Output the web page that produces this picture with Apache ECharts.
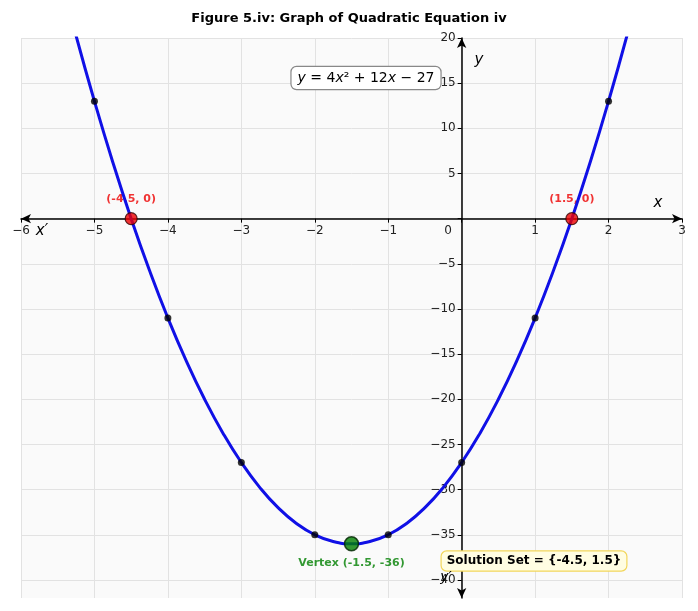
<!DOCTYPE html>
<html>
<head>
<meta charset="utf-8">
<script src="https://cdn.jsdelivr.net/npm/echarts@6/dist/echarts.min.js"></script>
<style>html,body{margin:0;padding:0;background:#fff}#c{width:698px;height:611px}</style>
</head>
<body>
<div id="c"></div>
<script>
// Curve samples read from the plotted parabola
var curveX = [-5.25,-5,-4.75,-4.5,-4.25,-4,-3.75,-3.5,-3.25,-3,-2.75,-2.5,-2.25,-2,-1.75,-1.5,-1.25,-1,-0.75,-0.5,-0.25,0,0.25,0.5,0.75,1,1.25,1.5,1.75,2,2.25];
var curveY = [20.25,13,6.25,0,-5.75,-11,-15.75,-20,-23.75,-27,-29.75,-32,-33.75,-35,-35.75,-36,-35.75,-35,-33.75,-32,-29.75,-27,-23.75,-20,-15.75,-11,-5.75,0,6.25,13,20.25];
// Marked integer points
var pointX = [-5,-4,-3,-2,-1,0,1,2];
var pointY = [13,-11,-27,-35,-35,-27,-11,13];
// Roots
var rootX = [-4.5, 1.5];
var rootY = [0, 0];
var rootLabels = ['(-4.5, 0)', '(1.5, 0)'];
// Vertex
var vertexX = [-1.5];
var vertexY = [-36];
var vertexLabels = ['Vertex (-1.5, -36)'];
// Ticks
var xTicks = [-6,-5,-4,-3,-2,-1,0,1,2,3];
var yTicks = [-40,-35,-30,-25,-20,-15,-10,-5,0,5,10,15,20];
var yTickLabels = [-40,-35,-30,-25,-20,-15,-10,-5,5,10,15,20];

var X_MIN = -6, X_MAX = 3, Y_MIN = -42, Y_MAX = 20;
var W = 698, H = 611, GL = 21, GR = 16, GT = 38, GB = 13;
// shift axes so they cross at the origin
var plotW = W - GL - GR, plotH = H - GT - GB;
var xAxisOffset = -plotH * (0 - Y_MIN) / (Y_MAX - Y_MIN);
var yAxisOffset = -plotW * (0 - X_MIN) / (X_MAX - X_MIN);

function pairs(xs, ys){ return xs.map(function(x,i){ return [x, ys[i]]; }); }
function fmt(v){ return v === 0 ? '' : String(v).replace('-', '\u2212'); }

var FONT = 'DejaVu Sans';
var chart = echarts.init(document.getElementById('c'));
chart.setOption({
  animation: false,
  textStyle: { fontFamily: FONT },
  grid: { left: GL, right: GR, top: GT, bottom: GB, show: true, backgroundColor: '#fafafa', borderWidth: 0, containLabel: false, outerBoundsMode: 'none' },
  xAxis: {
    type: 'value', min: X_MIN, max: X_MAX, interval: 1, position: 'bottom', offset: xAxisOffset,
    axisLine: { onZero: false, symbol: ['arrow','arrow'], symbolSize: [7, 10], lineStyle: { color: '#000', width: 1.5 } },
    axisTick: { show: true, length: 4, lineStyle: { color: '#000' }, customValues: xTicks },
    axisLabel: { formatter: fmt, color: '#222', fontSize: 12, margin: 6, fontFamily: FONT, customValues: xTicks, hideOverlap: false },
    splitLine: { show: true, lineStyle: { color: '#e2e2e2', width: 1 } }
  },
  yAxis: {
    type: 'value', min: Y_MIN, max: Y_MAX, position: 'left', offset: yAxisOffset,
    axisLine: { onZero: false, symbol: ['arrow','arrow'], symbolSize: [7, 10], lineStyle: { color: '#000', width: 1.5 } },
    axisTick: { show: true, length: 4, lineStyle: { color: '#000' }, customValues: yTicks },
    axisLabel: { formatter: fmt, color: '#222', fontSize: 12, margin: 6, fontFamily: FONT, customValues: yTickLabels, hideOverlap: false },
    splitLine: { show: true, lineStyle: { color: '#e2e2e2', width: 1 } }
  },
  series: [
    { // root labels (under curve)
      type: 'scatter', z: 1, symbolSize: 0, data: pairs(rootX, rootY),
      label: { show: true, position: 'top', distance: 14,
        formatter: function(p){ return rootLabels[p.dataIndex]; },
        color: '#ee0000', fontWeight: 'bold', fontSize: 11, fontFamily: FONT }
    },
    {
      type: 'line', z: 2, data: pairs(curveX, curveY), smooth: true, showSymbol: false, clip: true,
      lineStyle: { color: '#1010e6', width: 3 }
    },
    {
      type: 'scatter', z: 3, data: pairs(pointX, pointY), symbolSize: 7,
      itemStyle: { color: '#000' }
    },
    {
      type: 'scatter', z: 4, data: pairs(rootX, rootY), symbolSize: 12,
      itemStyle: { color: '#ee0000', borderColor: '#330000', borderWidth: 1.2 }
    },
    {
      type: 'scatter', z: 4, data: pairs(vertexX, vertexY), symbolSize: 14,
      itemStyle: { color: '#008000', borderColor: '#002200', borderWidth: 1.5 },
      label: { show: true, position: 'bottom', distance: 6,
        formatter: function(p){ return vertexLabels[p.dataIndex]; },
        color: '#008000', fontWeight: 'bold', fontSize: 11, fontFamily: FONT }
    }
  ],
  graphic: [
    { type: 'text', x: 349, y: 19, z: 10, style: { text: 'Figure 5.iv: Graph of Quadratic Equation iv', fontFamily: FONT, fontWeight: 'bold', fontSize: 13, fill: '#000', align: 'center', verticalAlign: 'middle' } },
    { type: 'text', x: 366, y: 78, z: 10, style: {
        text: '{i|y} = 4{i|x}\u00b2 + 12{i|x} \u2212 27', fontFamily: FONT, fontSize: 14, fill: '#000', align: 'center', verticalAlign: 'middle',
        rich: { i: { fontStyle: 'italic', fontFamily: FONT, fontSize: 14 } },
        backgroundColor: '#fff', borderColor: '#888', borderWidth: 1.2, borderRadius: 5, padding: [4, 6, 4, 6] } },
    { type: 'text', x: 534, y: 561, z: 10, style: {
        text: 'Solution Set = {-4.5, 1.5}', fontFamily: FONT, fontSize: 12, fontWeight: 'bold', fill: '#000', align: 'center', verticalAlign: 'middle',
        backgroundColor: '#fffde2', borderColor: '#f2d65a', borderWidth: 1.2, borderRadius: 5, padding: [4, 5, 3, 5] } },
    { type: 'text', x: 658, y: 203, z: 10, style: { text: 'x', fontFamily: FONT, fontStyle: 'italic', fontSize: 15, fill: '#000', align: 'center', verticalAlign: 'middle' } },
    { type: 'text', x: 479, y: 60, z: 10, style: { text: 'y', fontFamily: FONT, fontStyle: 'italic', fontSize: 15, fill: '#000', align: 'center', verticalAlign: 'middle' } },
    { type: 'text', x: 42, y: 231, z: 10, style: { text: 'x\u2032', fontFamily: FONT, fontStyle: 'italic', fontSize: 15, fill: '#000', align: 'center', verticalAlign: 'middle' } },
    { type: 'text', x: 446, y: 577, z: 10, style: { text: 'y\u2032', fontFamily: FONT, fontStyle: 'italic', fontSize: 14, fill: '#000', align: 'center', verticalAlign: 'middle' } },
    { type: 'text', x: 448, y: 231, z: 10, style: { text: '0', fontFamily: FONT, fontSize: 12, fill: '#222', align: 'center', verticalAlign: 'middle' } }
  ]
});
</script>
</body>
</html>
